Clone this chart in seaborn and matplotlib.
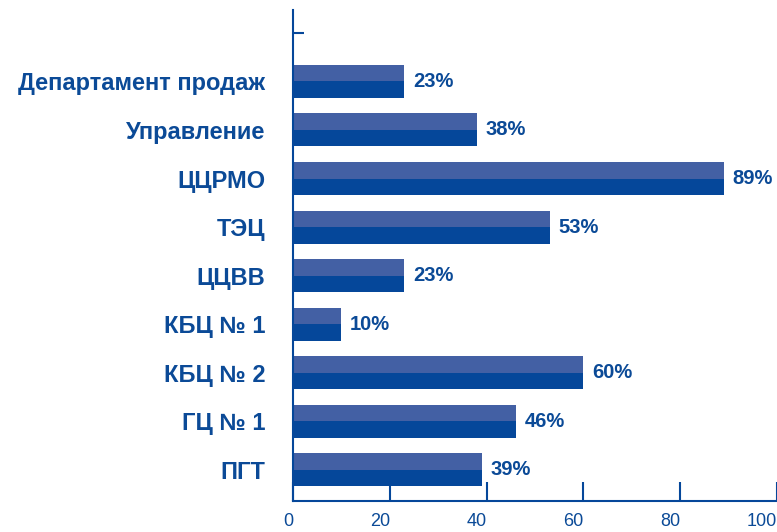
import matplotlib
matplotlib.use("Agg")
import matplotlib.pyplot as plt
from matplotlib.patches import Rectangle
import seaborn as sns
import pandas as pd

# Chart data
departments = ["Департамент продаж", "Управление", "ЦЦРМО", "ТЭЦ", "ЦЦВВ",
               "КБЦ № 1", "КБЦ № 2", "ГЦ № 1", "ПГТ"]
shares = [23, 38, 89, 53, 23, 10, 60, 46, 39]
x_ticks = [0, 20, 40, 60, 80, 100]

LIGHT = "#4360a4"
DARK = "#05479a"
TEXT = "#0b4a97"

sns.set_theme(style="white")
plt.rcParams["font.family"] = ["Liberation Sans", "DejaVu Sans"]

df = pd.DataFrame({"dept": departments, "share": shares})

fig = plt.figure(figsize=(7.77, 5.32), dpi=100)
ax = fig.add_axes([293 / 777, 31 / 532, 484 / 777, 491 / 532])

sns.barplot(data=df, y="dept", x="share", orient="h", color=DARK,
            saturation=1, width=0.68, ax=ax)

# lighter top half of each bar
for p in list(ax.patches):
    x0, y0 = p.get_x(), p.get_y()
    w, h = p.get_width(), p.get_height()
    p.set_linewidth(0)
    ax.add_patch(Rectangle((x0, y0), w, h / 2, facecolor=LIGHT, linewidth=0))

# value labels
for i, v in enumerate(shares):
    ax.text(v + 1.8, i, f"{v}%", va="center", ha="left", fontsize=14.5,
            fontweight="bold", color=TEXT)

ax.set_xlim(0, 100)
ax.set_ylim(8.64, -1.47)
ax.set_xticks(x_ticks)
ax.set_xticklabels([str(t) for t in x_ticks], ha="right")
ax.set_xlabel("")
ax.set_ylabel("")

ax.tick_params(axis="x", direction="in", length=13.5, width=1.5, color=DARK,
               labelsize=13, labelcolor=TEXT, pad=9, bottom=True)
ax.tick_params(axis="y", length=0, labelsize=17, labelcolor=TEXT, pad=20)
for lab in ax.get_yticklabels():
    lab.set_fontweight("bold")

# single top tick on the y axis
ax.set_yticks([-1], minor=True)
ax.tick_params(axis="y", which="minor", direction="in", length=8, width=1.5,
               color=DARK, left=True)

for side in ["top", "right"]:
    ax.spines[side].set_visible(False)
for side in ["left", "bottom"]:
    ax.spines[side].set_color(DARK)
    ax.spines[side].set_linewidth(1.5)

fig.savefig("out.png", dpi=100)
